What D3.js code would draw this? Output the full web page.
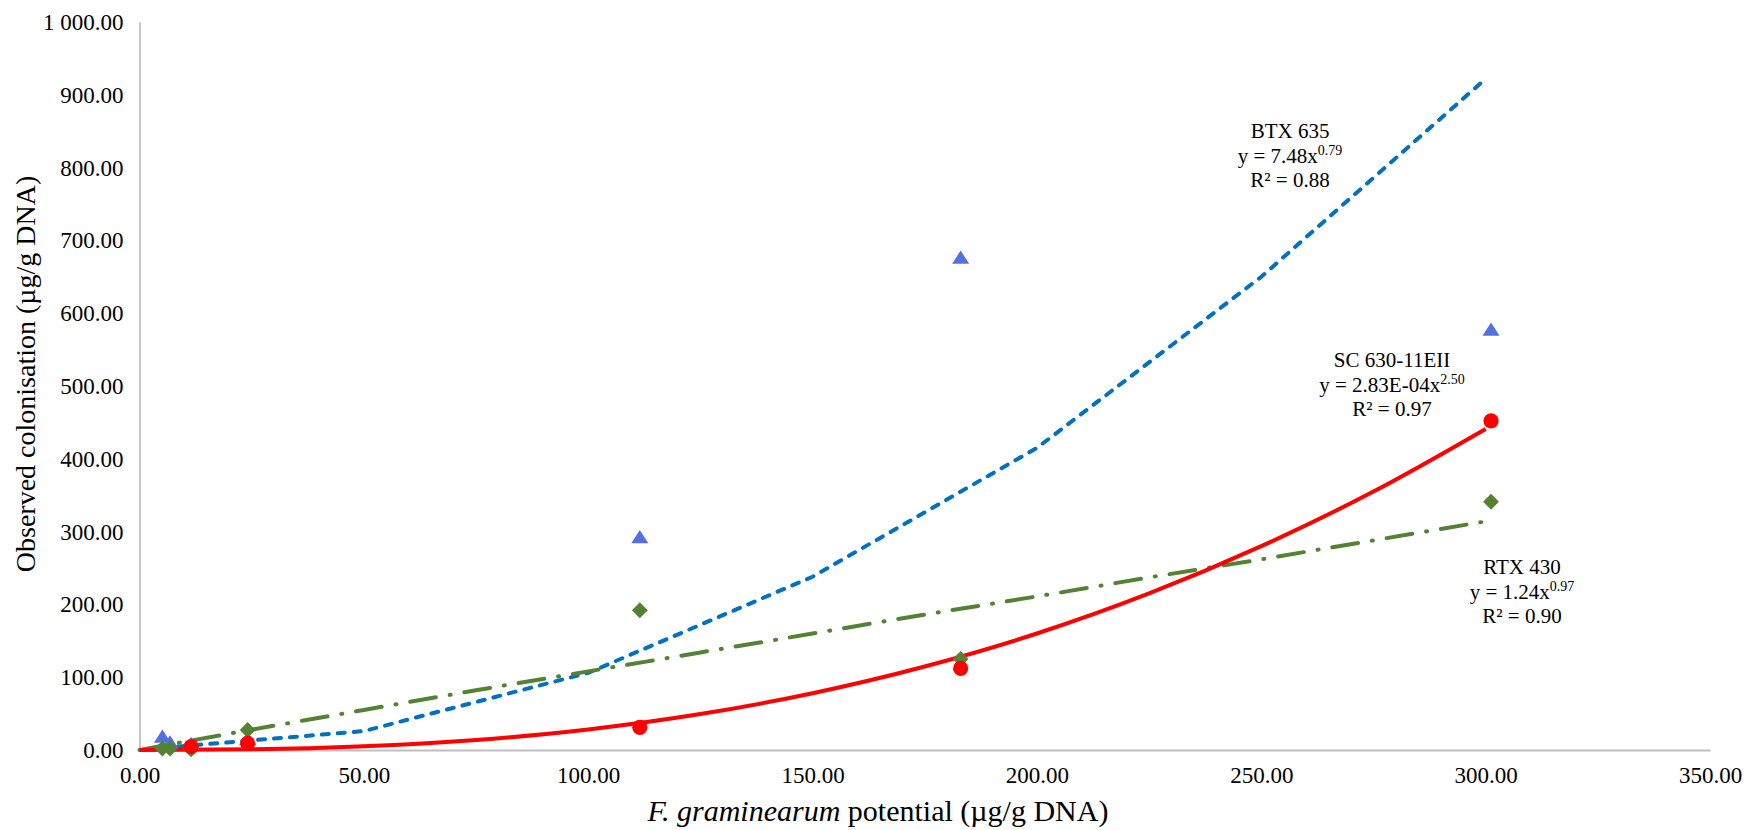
<!DOCTYPE html>
<html>
<head>
<meta charset="utf-8">
<script src="https://cdn.jsdelivr.net/npm/d3@7"></script>
<style>
  html, body { margin: 0; padding: 0; background: #ffffff; }
  svg { display: block; }
  text { font-family: "Liberation Serif", "Times New Roman", serif; fill: #000; }
</style>
</head>
<body>
<svg id="chart" width="1753" height="830"></svg>
<script>
// Fungal potential of each sample (x) and observed colonisation per line (y)
const potential = [5.1, 6.8, 11.5, 24.1, 111.5, 183.0, 301.2];
const btx635 = [16, 8, 6, 13, 290, 674, 575];
const rtx430 = [2, 2, 1, 27.5, 192, 125, 341];
const sc630 = [null, null, 4.5, 9, 31, 112, 452];

// Power trendlines, sampled along x
const btxTrendX = [5.1, 50, 100, 150, 200, 250, 300];
const btxTrendY = [3, 26, 106, 238, 415, 650, 922];
const trendX = [0, 25, 50, 75, 100, 125, 150, 175, 200, 225, 250, 275, 300];
const rtxTrendY = [0, 28, 55, 82, 108, 134, 160, 186, 211, 237, 262, 288, 314];
const scTrendY = [0, 0.9, 5, 13.8, 28.3, 49.4, 78, 114.7, 160, 215, 280, 355, 441];

const xTicks = [0, 50, 100, 150, 200, 250, 300, 350];
const yTicks = [0, 100, 200, 300, 400, 500, 600, 700, 800, 900, 1000];

const svg = d3.select("#chart");
const x = d3.scaleLinear().domain([0, 350]).range([139.5, 1710]);
const y = d3.scaleLinear().domain([0, 1000]).range([750, 22]);

const fmt = v => d3.format(",.2f")(v).replace(/,/g, " ");

// Axes
const xAxis = svg.append("g").attr("transform", `translate(0,${y(0)})`)
  .call(d3.axisBottom(x).tickValues(xTicks).tickFormat(fmt).tickSize(0).tickPadding(0));
xAxis.select(".domain").attr("stroke", "#bfbfbf").attr("stroke-width", 1.8);
xAxis.selectAll("text").attr("font-size", 23).attr("dy", null).attr("y", 33)
  .style("font-family", "'Liberation Serif', serif").attr("fill", "#000");

const yAxis = svg.append("g").attr("transform", `translate(${x(0)},0)`)
  .call(d3.axisLeft(y).tickValues(yTicks).tickFormat(fmt).tickSize(0).tickPadding(16));
yAxis.select(".domain").attr("stroke", "#bfbfbf").attr("stroke-width", 1.8);
yAxis.selectAll("text").attr("font-size", 23).attr("dy", "0.33em")
  .style("font-family", "'Liberation Serif', serif").attr("fill", "#000");

// Axis titles
svg.append("text")
  .attr("transform", "translate(35,374) rotate(-90)")
  .attr("text-anchor", "middle").attr("font-size", 28)
  .text("Observed colonisation (µg/g DNA)");

const xt = svg.append("text").attr("x", 878).attr("y", 821)
  .attr("text-anchor", "middle").attr("font-size", 30);
xt.append("tspan").attr("font-style", "italic").text("F. graminearum");
xt.append("tspan").text(" potential (µg/g DNA)");

// Trendlines
const line = d3.line().x(d => x(d[0])).y(d => y(d[1]));
svg.append("path")
  .datum(btxTrendX.map((v, i) => [v, btxTrendY[i]]))
  .attr("d", line).attr("fill", "none").attr("stroke", "#0070c0")
  .attr("stroke-width", 4).attr("stroke-dasharray", "7,9").attr("stroke-linecap", "round");
const smooth = d3.line().x(d => x(d[0])).y(d => y(d[1])).curve(d3.curveMonotoneX);
svg.append("path")
  .datum(trendX.map((v, i) => [v, rtxTrendY[i]]))
  .attr("d", smooth).attr("fill", "none").attr("stroke", "#548235")
  .attr("stroke-width", 4).attr("stroke-dasharray", "26,14,1,14").attr("stroke-linecap", "round");
svg.append("path")
  .datum(trendX.map((v, i) => [v, scTrendY[i]]))
  .attr("d", smooth).attr("fill", "none").attr("stroke", "#ff0000")
  .attr("stroke-width", 4);

// Observed values
const pts = arr => potential.map((v, i) => [v, arr[i]]).filter(d => d[1] != null);

const tri = d3.symbol().type(d3.symbolTriangle).size(125);
svg.append("g").selectAll("path").data(pts(btx635))
  .join("path").attr("d", tri)
  .attr("transform", d => `translate(${x(d[0])},${y(d[1])}) scale(1,0.9)`)
  .attr("fill", "#5470de");

const dia = d3.symbol().type(d3.symbolSquare).size(125);
svg.append("g").selectAll("path").data(pts(rtx430))
  .join("path").attr("d", dia)
  .attr("transform", d => `translate(${x(d[0])},${y(d[1])}) rotate(45)`)
  .attr("fill", "#548235");

svg.append("g").selectAll("circle").data(pts(sc630))
  .join("circle").attr("cx", d => x(d[0])).attr("cy", d => y(d[1])).attr("r", 7.6)
  .attr("fill", "#ff0000");

// Trendline equations
function eqLabel(cx, baseline, name, coef, exp, r2) {
  const g = svg.append("g");
  g.append("text").attr("x", cx).attr("y", baseline).attr("text-anchor", "middle")
    .attr("font-size", 21).text(name);
  const t = g.append("text").attr("x", cx).attr("y", baseline + 24.5)
    .attr("text-anchor", "middle").attr("font-size", 21);
  t.append("tspan").text(`y = ${coef}x`);
  t.append("tspan").attr("font-size", 14).attr("dy", -8).text(exp);
  g.append("text").attr("x", cx).attr("y", baseline + 49).attr("text-anchor", "middle")
    .attr("font-size", 21).text(`R² = ${r2}`);
}
eqLabel(1290, 138, "BTX 635", "7.48", "0.79", "0.88");
eqLabel(1392, 367, "SC 630-11EII", "2.83E-04", "2.50", "0.97");
eqLabel(1522, 574, "RTX 430", "1.24", "0.97", "0.90");
</script>
</body>
</html>
